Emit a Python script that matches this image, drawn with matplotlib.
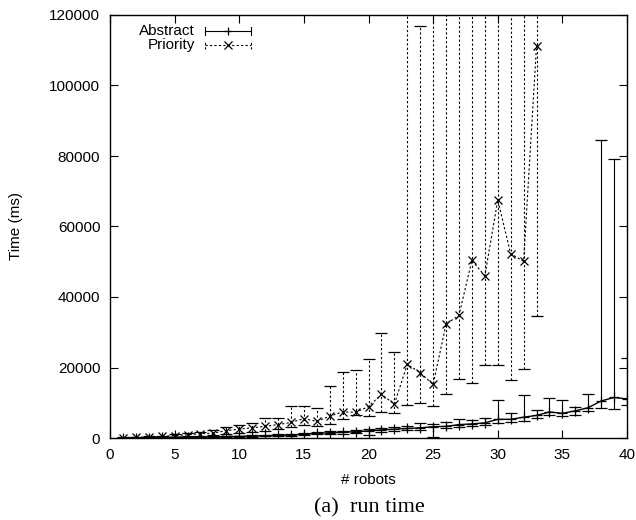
import matplotlib
matplotlib.use("Agg")
import matplotlib.pyplot as plt
import numpy as np

# ---- data ----
abstract_x = list(range(1, 41))
abstract_mean = [30, 60, 100, 150, 200, 250, 300, 350, 400, 450,
                 550, 650, 750, 850, 1100, 1300, 1500, 1600, 1800, 2000,
                 2300, 2500, 2700, 2900, 3200, 3300, 3800, 4000, 4300, 5300,
                 5300, 5900, 6400, 7400, 7000, 7700, 8600, 10500, 11500, 11100]
abstract_low = [20, 40, 70, 100, 150, 180, 220, 260, 300, 340,
                400, 480, 550, 650, 800, 1000, 1150, 1250, 1400, 900,
                1800, 2000, 2300, 2300, 300, 2700, 3200, 3300, 3700, 4300,
                4500, 4800, 5600, 6400, 6100, 6600, 7700, 8400, 8200, 9300]
abstract_high = [50, 90, 140, 200, 260, 330, 400, 460, 520, 600,
                 720, 850, 1000, 1100, 1400, 1600, 1900, 2000, 2300, 2500,
                 2900, 3100, 3300, 4300, 4000, 4600, 5300, 5000, 5600, 10700,
                 7000, 12200, 7900, 11400, 10700, 8900, 12400, 84500, 79100, 22800]

priority_x = list(range(1, 34))
priority_mean = [100, 200, 300, 450, 700, 900, 1200, 1400, 2100, 2500,
                 2900, 3300, 3800, 4400, 5500, 4700, 6200, 7400, 7300, 8900,
                 12400, 9600, 20900, 18500, 15200, 32300, 34800, 50400, 46000, 67500,
                 52300, 50100, 111200]
priority_low = [50, 100, 150, 250, 400, 500, 700, 800, 1200, 1500,
                1800, 2000, 2500, 3000, 3800, 3500, 4100, 5400, 6600, 6200,
                7400, 7200, 9300, 10000, 9000, 12400, 16700, 15500, 20600, 20600,
                16400, 19700, 34500]
priority_high = [200, 400, 500, 700, 1100, 1400, 1800, 2300, 3000, 3600,
                 4300, 5600, 5600, 9000, 9000, 8500, 14700, 18800, 19300, 22400,
                 29700, 24300, 180000, 117000, 200000, 200000, 200000, 200000, 200000, 200000,
                 200000, 200000, 200000]

x_ticks = [0, 5, 10, 15, 20, 25, 30, 35, 40]
y_ticks = [0, 20000, 40000, 60000, 80000, 100000, 120000]

plt.rcParams['font.family'] = ['Liberation Sans', 'DejaVu Sans']

fig = plt.figure(figsize=(6.36, 5.2), dpi=100)
ax = fig.add_axes([110 / 636, 1 - 438 / 520, 517 / 636, 423 / 520])

lw = 0.8
am = np.array(abstract_mean)
pm = np.array(priority_mean)

# Priority (dashed)
perr = [pm - np.array(priority_low), np.array(priority_high) - pm]
pc = ax.errorbar(priority_x, pm, yerr=perr, fmt='x', color='black', ms=6, mew=0.9,
                 ecolor='black', elinewidth=lw, capsize=4, capthick=lw, zorder=3)
for bl in pc[2]:
    bl.set_linestyle((0, (2, 2)))
ax.plot(priority_x, pm, color='black', lw=lw, ls=(0, (2, 2)), zorder=3)

# Abstract (solid)
aerr = [am - np.array(abstract_low), np.array(abstract_high) - am]
ac = ax.errorbar(abstract_x, am, yerr=aerr, fmt='+', color='black', ms=7, mew=0.9,
                 ecolor='black', elinewidth=lw, capsize=4, capthick=lw, zorder=4)
ax.plot(abstract_x, am, color='black', lw=1.0, zorder=4)

ax.set_xlim(0, 40)
ax.set_ylim(0, 120000)
ax.set_xticks(x_ticks)
ax.set_yticks(y_ticks)
ax.set_xticklabels([str(t) for t in x_ticks])
ax.set_yticklabels([str(t) for t in y_ticks])
ax.tick_params(direction='in', length=6, width=0.8, top=True, right=True,
               labelsize=11, pad=7)
for s in ax.spines.values():
    s.set_linewidth(1.0)

ax.set_xlabel('# robots', fontsize=11, labelpad=8)
ax.set_ylabel('Time (ms)', fontsize=11, labelpad=19)

# manual gnuplot-like key
def key_entry(y, label, marker, ls):
    x0, x1 = 0.184, 0.272
    ax.text(0.164, y, label, transform=ax.transAxes, ha='right', va='center', fontsize=11)
    ax.plot([x0, x1], [y, y], transform=ax.transAxes, color='black', lw=lw, ls=ls, clip_on=False)
    for xx in (x0, x1):
        ax.plot([xx, xx], [y - 0.01, y + 0.01], transform=ax.transAxes, color='black',
                lw=lw, ls=ls, clip_on=False)
    ax.plot([(x0 + x1) / 2], [y], transform=ax.transAxes, marker=marker, color='black',
            ms=6, mew=0.9, clip_on=False)

key_entry(0.962, 'Abstract', '+', '-')
key_entry(0.929, 'Priority', 'x', (0, (2, 2)))

fig.text(369 / 636, 1 - 508 / 520, '(a)  run time', ha='center', va='center',
         fontsize=16, family=['Liberation Serif', 'DejaVu Serif'])

fig.savefig('out.png', dpi=100)
